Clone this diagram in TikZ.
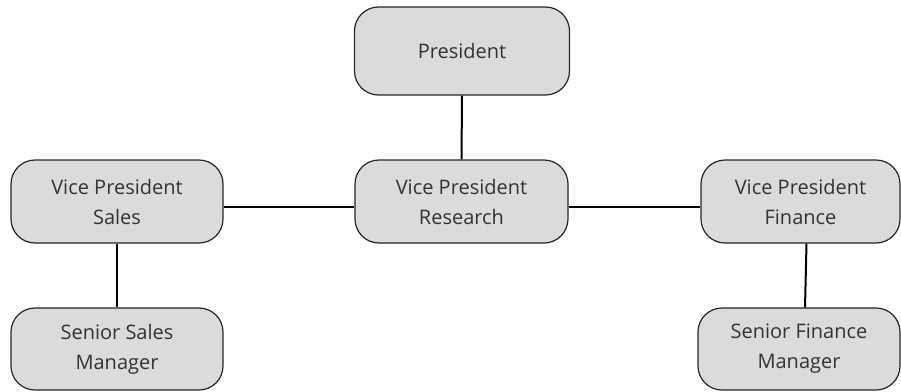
\documentclass[tikz,border=0pt]{standalone}
\usepackage{fontspec}
\setmainfont{Open Sans}
\usetikzlibrary{positioning}

\tikzset{
  post/.style={draw=black!85, line width=1.2pt, fill=black!14, rounded corners=24pt,
    align=center, text=black!80, font=\fontsize{20}{30}\selectfont,
    minimum width=212pt, minimum height=83pt, inner sep=0pt},
  link/.style={line width=2pt, black}
}

\begin{document}
\begin{tikzpicture}[x=1pt,y=-1pt]
            \useasboundingbox (0,0) rectangle (901,391);
            % top
            \node[post, minimum width=215pt, minimum height=88pt] (pres) at (462,51) {President};
            % middle row
            \node[post] (vps) at (117,201.5) {Vice President\\Sales};
            \node[post, minimum width=213pt] (vpr) at (461.5,201.5) {Vice President\\Research};
            \node[post, minimum width=199pt] (vpf) at (800.5,201.5) {Vice President\\Finance};
            % bottom row
            \node[post, minimum height=82pt] (ssm) at (117,349) {Senior Sales\\Manager};
            \node[post, minimum width=202pt, minimum height=82pt] (sfm) at (799,349) {Senior Finance\\Manager};
            % lines
            \draw[link] (pres.south) -- (vpr.north);
            \draw[link] ([yshift=-5.5pt]vps.east) -- ([yshift=-5.5pt]vpr.west);
            \draw[link] ([yshift=-5.5pt]vpr.east) -- ([yshift=-5.5pt]vpf.west);
            \draw[link] (vps.south) -- (ssm.north);
            \draw[link] ([xshift=6pt]vpf.south) -- ([xshift=6pt]sfm.north);
        \end{tikzpicture}
\end{document}
